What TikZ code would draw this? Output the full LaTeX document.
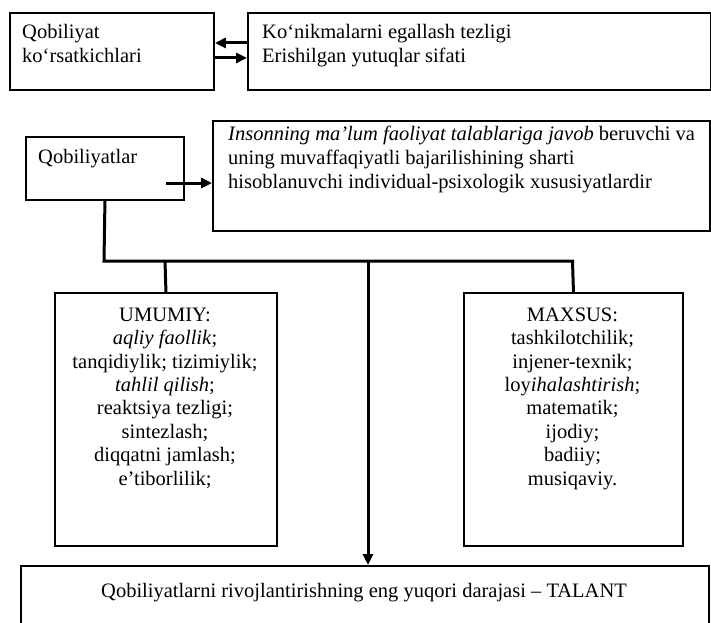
\documentclass[tikz,border=0pt]{standalone}
\usepackage{fontspec}
\setmainfont{Liberation Serif}
\usetikzlibrary{arrows.meta}
\tikzset{
  box/.style={draw, line width=1.9pt, anchor=north west, inner sep=0, minimum width=#1},
  conn/.style={line width=3pt},
  arr/.style={line width=3pt, -{Triangle[length=11pt,width=10pt]}},
  txt/.style={inner sep=0, anchor=north west, align=left, font=\fontsize{20.5}{24}\selectfont},
  ctxt/.style={inner sep=0, anchor=north, align=center, font=\fontsize{20.5}{23.4}\selectfont},
}
\newcommand{\tp}{\rule{0pt}{14pt}}
\begin{document}
\begin{tikzpicture}[x=1pt,y=-1pt]
\clip (0,0) rectangle (711,622);
\fill[white] (0,0) rectangle (711,622);
% boxes
\node[box=204pt, minimum height=77pt] (kbox) at (9,12) {};
\node[box=463pt, minimum height=77pt] (kright) at (247,12) {};
\node[box=158pt, minimum height=63pt] (qob) at (25,136) {};
\node[box=497pt, minimum height=110pt] (ins) at (212,120) {};
\node[box=222pt, minimum height=253pt] (umu) at (54,292) {};
\node[box=219pt, minimum height=253pt] (max) at (463,292) {};
\node[box=688pt, minimum height=80pt] (tal) at (20,565) {};
% texts
\node[txt] (t1) at (22,24) {\tp Qobiliyat\\ko‘rsatkichlari};
\node[txt] (t2) at (262,24) {\tp Ko‘nikmalarni egallash tezligi\\Erishilgan yutuqlar sifati};
\node[txt] (t3) at (38,149) {\tp Qobiliyatlar};
\node[txt] (t4) at (228,126) {\tp\textit{Insonning ma’lum faoliyat talablariga javob} beruvchi va\\uning muvaffaqiyatli bajarilishining sharti\\hisoblanuvchi individual-psixologik xususiyatlardir};
\node[ctxt] (t5) at (165,307) {\tp UMUMIY:\\\textit{aqliy faollik};\\tanqidiylik; tizimiylik;\\\textit{tahlil qilish};\\reaktsiya tezligi;\\sintezlash;\\diqqatni jamlash;\\e’tiborlilik;};
\node[ctxt] (t6) at (572.5,307) {\tp MAXSUS:\\tashkilotchilik;\\injener-texnik;\\loy\textit{ihalashtirish};\\matematik;\\ijodiy;\\badiiy;\\musiqaviy.};
\node[ctxt] (t7) at (364,583) {\tp Qobiliyatlarni rivojlantirishning eng yuqori darajasi – TALANT};
% connectors
\draw[arr] ([yshift=8.5pt]kright.west) -- ([yshift=8.5pt]kbox.east);
\draw[arr] ([yshift=-6.5pt]kbox.east) -- ([yshift=-6.5pt]kright.west);
\coordinate (qa) at (166,183);
\draw[arr] (qa) -- (qa -| ins.west);
\coordinate (h1) at (104,261);
\coordinate (h2) at (572.5,261);
\coordinate (hu) at (165,261);
\coordinate (ht) at (368,261);
\draw[conn] (qob.south) -- (h1) -- (h2) -- (max.north);
\draw[conn] (hu) -- (umu.north);
\draw[arr] (ht) -- (ht |- tal.north);
\end{tikzpicture}
\end{document}
